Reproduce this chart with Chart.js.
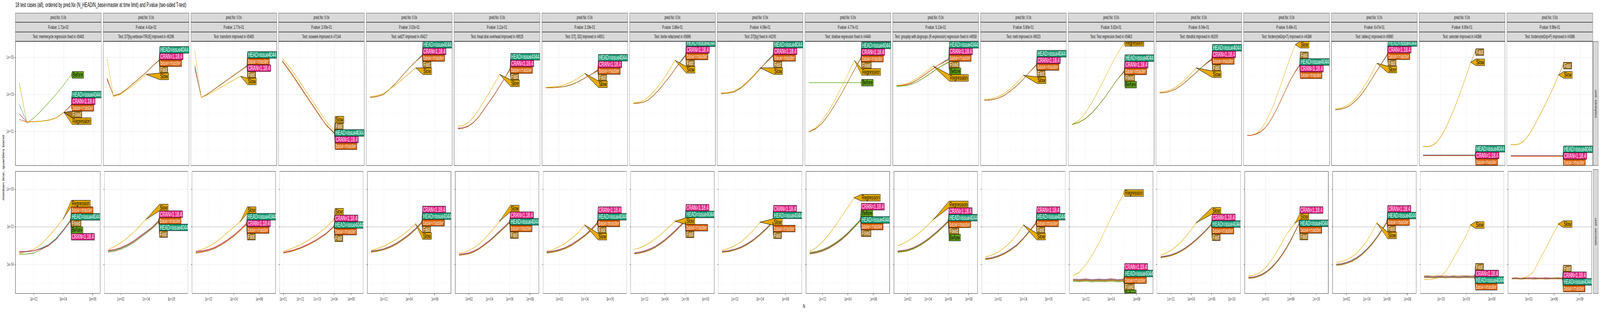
<!DOCTYPE html>
<html><head><meta charset="utf-8">
<script src="https://cdn.jsdelivr.net/npm/chart.js@4.4.1/dist/chart.umd.min.js"></script>
<style>
html,body{margin:0;padding:0;background:#fff;overflow:hidden;}
#root{position:absolute;left:0;top:0;width:7200px;height:800px;transform-origin:0 0;font-family:"Liberation Sans",Arial,sans-serif;background:#fff}
.strip{position:absolute;box-sizing:border-box;background:#d9d9d9;border:1px solid #555;color:#1a1a1a;font-size:12px;display:flex;align-items:center;justify-content:center;white-space:nowrap;overflow:hidden}
.rstrip{position:absolute;box-sizing:border-box;background:#d9d9d9;border:1px solid #555;color:#1a1a1a;font-size:12px;overflow:hidden}
.rstrip span{position:absolute;left:50%;top:50%;transform:translate(-50%,-50%) rotate(90deg);white-space:nowrap}
canvas{position:absolute}
#title{position:absolute;left:69px;top:4px;font-size:16px;color:#000;white-space:nowrap}
#ytitle{position:absolute;left:15px;top:430px;transform:translate(-50%,-50%) rotate(-90deg);font-size:14px;white-space:nowrap}
#xtitle{position:absolute;left:3618px;top:777px;transform:translateX(-50%);font-size:14px}
</style></head><body>
<div id="root"><div id="title"></div><div id="ytitle"></div><div id="xtitle"></div></div>
<script>
const TITLE = "18 test cases (all), ordered by pred.Nx (N_HEAD/N_base=master at time limit) and P.value (two-sided T-test)";
const Y_TITLE = "median line, quartiles band";
const X_TITLE = "N";
const UNITS = ["unit: kilobytes", "unit: seconds"];
const PRED_NX = ["0.0x","0.0x","0.0x","0.0x","0.0x","0.0x","0.0x","0.0x","0.0x","0.0x","0.0x","0.0x","0.0x","0.0x","0.0x","0.0x","0.0x","0.0x"];
const P_VALUES = ["1.71e-02","4.41e-02","2.77e-01","3.00e-01","3.02e-01","3.11e-01","3.19e-01","3.86e-01","4.08e-01","4.77e-01","5.13e-01","5.60e-01","5.82e-01","6.04e-01","6.49e-01","8.47e-01","8.90e-01","9.96e-01"];
const TEST_NAMES = [
 "memrecycle regression fixed in #5463",
 "DT[by,verbose=TRUE] improved in #6296",
 "transform improved in #5493",
 "isoweek improved in #7144",
 "setDT improved in #5427",
 "fread disk overhead improved in #6925",
 "DT[,.SD] improved in #4501",
 "fwrite refactored in #5696",
 "DT[by] fixed in #4200",
 "shallow regression fixed in #4440",
 "groupby with dogroups (R expression) regression fixed in #4558",
 "melt improved in #6023",
 "Test regression fixed in #5463",
 "rbindlist improved in #6200",
 "forderv(retGrp=T) improved in #4386",
 "tables() improved in #6980",
 "setorder improved in #4386",
 "forderv(retGrp=F) improved in #4386"
];
// N values (half decades)
const N_GRID = [10, 31.6, 100, 316, 1000, 3160, 10000, 31600, 100000, 316000, 1000000, 3160000, 10000000];
// time limit line (seconds)
const SECONDS_LIMIT = 0.01;
// row y-limits (log10)
const Y_LIMITS_LOG10 = [[-0.83, 5.88], [-5.55, 0.96]];

const H="HEAD=issue4044", C="CRAN=1.18.4", B="base=master";
// series values as log10(median), aligned with N_GRID
const P1_kb = [
 ["Before",[null,1.46,1.76,2.16,2.6,3.05,3.55,4.07]],
 [H,[2.48,1.53,1.55,1.58,1.63,1.76,2.05,2.47]],
 [C,[1.97,1.53,1.55,1.58,1.63,1.76,2.05,2.45]],
 [B,[1.67,1.53,1.55,1.58,1.63,1.76,2.05,2.44]],
 ["Fixed",[3.63,1.53,1.55,1.58,1.63,1.76,2.05,null]],
 ["Regression",[3.63,1.53,1.55,1.58,1.63,1.76,2.05,null]]];
const P1_sec = [
 ["Regression",[-3.41,-3.3,-3.2,-2.92,-2.51,-2.06,-1.57,null]],
 [B,[-3.35,-3.33,-3.28,-3.15,-2.96,-2.63,-2.16,-1.62]],
 [H,[-3.33,-3.32,-3.27,-3.13,-2.94,-2.62,-2.15,-1.64]],
 ["Fixed",[-3.45,-3.44,-3.39,-3.2,-3.0,-2.66,-2.18,-1.66]],
 ["Before",[-3.45,-3.44,-3.39,-3.2,-3.0,-2.66,-2.18,-1.67]],
 [C,[-3.31,-3.3,-3.27,-3.16,-2.99,-2.68,-2.21,-1.7]]];
const P2_kb = [
 [H,[3.9,2.95,3.05,3.3,3.6,3.9,4.2,4.55,4.88]],
 [C,[3.85,2.95,3.05,3.3,3.6,3.9,4.2,4.55,4.86]],
 [B,[3.8,2.95,3.05,3.3,3.6,3.9,4.2,4.55,4.85]],
 ["Fast",[3.9,2.95,3.05,3.3,3.6,3.9,4.2,4.55,4.84]],
 ["Slow",[4.95,2.9,3.0,3.25,3.5,3.8,4.1,null,null]]];
const P2_sec = [
 ["Slow",[-3.2,-3.05,-2.85,-2.6,-2.3,-1.95,-1.6,null,null]],
 [C,[-3.25,-3.2,-3.1,-2.95,-2.75,-2.5,-2.25,-2.0,-1.65]],
 [B,[-3.28,-3.22,-3.12,-2.97,-2.78,-2.53,-2.28,-2.02,-1.68]],
 [H,[-3.3,-3.25,-3.15,-3.0,-2.8,-2.55,-2.3,-2.05,-1.7]],
 ["Fast",[-3.35,-3.3,-3.2,-3.05,-2.85,-2.6,-2.35,-2.08,-1.75]]];
const P3_kb = [
 [H,[4.6,2.85,3.05,3.3,3.55,3.8,4.05,4.3,4.57]],
 [B,[4.5,2.85,3.05,3.3,3.55,3.8,4.05,4.3,4.55]],
 [C,[4.4,2.85,3.05,3.3,3.55,3.8,4.05,4.3,4.53]],
 ["Fast",[4.5,2.85,3.05,3.3,3.55,3.8,4.05,4.3,4.52]],
 ["Slow",[5.37,2.85,3.0,3.2,3.4,3.6,3.8,4.0,null]]];
const P3_sec = [
 ["Slow",[-3.3,-3.2,-3.05,-2.85,-2.6,-2.3,-2.0,-1.72,null]],
 [H,[-3.35,-3.3,-3.22,-3.1,-2.92,-2.7,-2.45,-2.15,-1.8]],
 [C,[-3.3,-3.27,-3.2,-3.08,-2.9,-2.68,-2.43,-2.13,-1.82]],
 [B,[-3.36,-3.31,-3.23,-3.11,-2.93,-2.71,-2.46,-2.16,-1.84]],
 ["Fast",[-3.4,-3.35,-3.27,-3.15,-2.97,-2.75,-2.5,-2.2,-1.88]]];
const P4_kb = [
 ["Slow",[4.95,4.4,3.7,3.0,2.3,1.6,1.05]],
 ["Fast",[4.85,4.2,3.5,2.8,2.1,1.4,0.95]],
 [H,[4.8,4.15,3.45,2.75,2.05,1.38,0.92]],
 [C,[4.8,4.15,3.45,2.75,2.05,1.38,0.9]],
 [B,[4.8,4.15,3.45,2.75,2.05,1.38,0.89]]];
const P4_sec = [
 ["Slow",[-3.3,-3.15,-2.95,-2.7,-2.4,-2.05,-1.6]],
 [C,[-3.35,-3.25,-3.1,-2.9,-2.65,-2.35,-1.95]],
 [H,[-3.38,-3.28,-3.13,-2.93,-2.68,-2.38,-1.97]],
 [B,[-3.38,-3.28,-3.13,-2.93,-2.68,-2.38,-1.98]],
 ["Fast",[-3.4,-3.3,-3.15,-2.95,-2.7,-2.4,-1.99]]];
const P5_kb = [
 [H,[2.85,2.9,3.0,3.3,3.65,4.05,4.45,4.8,5.16]],
 [C,[2.85,2.9,3.0,3.3,3.65,4.05,4.45,4.8,5.12]],
 [B,[2.85,2.9,3.0,3.3,3.65,4.05,4.45,4.8,5.1]],
 ["Fast",[2.85,2.9,3.0,3.3,3.65,4.05,4.45,4.8,5.08]],
 ["Slow",[2.9,2.95,3.05,3.3,3.55,3.85,4.15,4.45,null]]];
const P5_sec = [
 ["Slow",[-3.25,-3.15,-3.02,-2.85,-2.65,-2.42,-2.15,-1.85,null]],
 [C,[-3.28,-3.23,-3.16,-3.03,-2.86,-2.63,-2.38,-2.08,-1.72]],
 [H,[-3.3,-3.25,-3.18,-3.05,-2.88,-2.65,-2.4,-2.1,-1.75]],
 [B,[-3.32,-3.27,-3.2,-3.07,-2.9,-2.67,-2.42,-2.12,-1.78]],
 ["Fast",[-3.35,-3.3,-3.22,-3.1,-2.93,-2.7,-2.45,-2.15,-1.8]]];
const P6_kb = [
 [H,[1.16,1.2,1.3,1.5,1.8,2.2,2.6,3.0,3.45,3.9,4.43]],
 [C,[1.2,1.22,1.32,1.52,1.82,2.22,2.62,3.02,3.47,3.92,4.4]],
 [B,[1.16,1.2,1.3,1.5,1.8,2.2,2.6,3.0,3.45,3.9,4.38]],
 ["Fast",[1.16,1.2,1.3,1.5,1.8,2.2,2.6,3.0,3.45,3.9,4.35]],
 ["Slow",[1.3,1.35,1.5,1.8,2.2,2.65,3.1,3.6,4.1,null,null]]];
const P6_sec = [
 ["Slow",[-3.4,-3.35,-3.25,-3.1,-2.9,-2.65,-2.35,-2.05,-1.7,null,null]],
 [C,[-3.45,-3.42,-3.37,-3.27,-3.12,-2.92,-2.72,-2.48,-2.22,-1.97,-1.7]],
 [H,[-3.5,-3.45,-3.4,-3.3,-3.15,-2.95,-2.75,-2.5,-2.25,-2.0,-1.72]],
 [B,[-3.5,-3.46,-3.41,-3.31,-3.16,-2.96,-2.76,-2.52,-2.27,-2.02,-1.75]],
 ["Fast",[-3.52,-3.48,-3.43,-3.33,-3.18,-2.98,-2.78,-2.54,-2.29,-2.04,-1.78]]];
const P7_kb = [
 [H,[3.37,3.38,3.4,3.45,3.55,3.7,3.9,4.1,4.35]],
 [C,[3.37,3.38,3.4,3.45,3.55,3.7,3.9,4.1,4.32]],
 [B,[3.37,3.38,3.4,3.45,3.55,3.7,3.9,4.1,4.3]],
 ["Fast",[3.37,3.38,3.4,3.45,3.55,3.7,3.9,4.1,4.28]],
 ["Slow",[3.4,3.42,3.45,3.55,3.7,3.9,4.15,null,null]]];
const P7_sec = [
 ["Slow",[-3.3,-3.2,-3.05,-2.85,-2.6,-2.3,-1.9,null,null]],
 [C,[-3.32,-3.28,-3.2,-3.08,-2.9,-2.68,-2.43,-2.12,-1.75]],
 [H,[-3.35,-3.3,-3.22,-3.1,-2.93,-2.7,-2.45,-2.15,-1.78]],
 [B,[-3.37,-3.32,-3.24,-3.12,-2.95,-2.72,-2.47,-2.17,-1.8]],
 ["Fast",[-3.4,-3.35,-3.27,-3.15,-2.98,-2.75,-2.5,-2.2,-1.83]]];
const P8_kb = [
 [H,[2.53,2.55,2.6,2.75,3.0,3.3,3.65,4.0,4.4,4.8,5.16]],
 [C,[2.53,2.55,2.6,2.75,3.0,3.3,3.65,4.0,4.4,4.78,5.13]],
 [B,[2.53,2.55,2.6,2.75,3.0,3.3,3.65,4.0,4.4,4.77,5.1]],
 ["Fast",[2.53,2.55,2.6,2.75,3.0,3.3,3.65,4.0,4.4,4.76,5.08]],
 ["Slow",[2.55,2.6,2.7,2.9,3.2,3.55,3.95,4.4,4.85,null,null]]];
const P8_sec = [
 ["Slow",[-3.2,-3.12,-3.0,-2.85,-2.65,-2.45,-2.2,-1.95,-1.7,null,null]],
 [C,[-3.37,-3.33,-3.27,-3.17,-3.04,-2.87,-2.67,-2.44,-2.19,-1.92,-1.65]],
 [H,[-3.4,-3.36,-3.3,-3.2,-3.07,-2.9,-2.7,-2.47,-2.22,-1.95,-1.68]],
 [B,[-3.42,-3.38,-3.32,-3.22,-3.09,-2.92,-2.72,-2.49,-2.24,-1.97,-1.7]],
 ["Fast",[-3.44,-3.4,-3.34,-3.24,-3.11,-2.94,-2.74,-2.51,-2.26,-1.99,-1.72]]];
const P9_kb = [
 [H,[3.06,3.08,3.15,3.35,3.65,4.0,4.4,4.8,5.16]],
 [C,[3.06,3.08,3.15,3.35,3.65,4.0,4.4,4.78,5.13]],
 [B,[3.06,3.08,3.15,3.35,3.65,4.0,4.4,4.77,5.11]],
 ["Fast",[3.06,3.08,3.15,3.35,3.65,4.0,4.4,4.76,5.09]],
 ["Slow",[3.1,3.12,3.2,3.4,3.7,4.05,4.45,null,null]]];
const P9_sec = [
 ["Slow",[-3.25,-3.15,-3.0,-2.8,-2.5,-2.15,-1.75,null,null]],
 [C,[-3.3,-3.26,-3.18,-3.06,-2.88,-2.65,-2.38,-2.06,-1.7]],
 [H,[-3.32,-3.28,-3.2,-3.08,-2.9,-2.67,-2.4,-2.08,-1.72]],
 [B,[-3.34,-3.3,-3.22,-3.1,-2.92,-2.69,-2.42,-2.1,-1.75]],
 ["Fast",[-3.36,-3.32,-3.24,-3.12,-2.94,-2.71,-2.44,-2.12,-1.77]]];
const P10_kb = [
 ["Regression",[1.0,1.2,1.6,2.1,2.7,3.4,4.1,4.85,null]],
 [H,[1.0,1.15,1.45,1.9,2.45,3.05,3.7,4.35,5.0]],
 [C,[1.0,1.15,1.45,1.9,2.45,3.05,3.7,4.35,4.98]],
 [B,[1.0,1.15,1.45,1.9,2.45,3.05,3.7,4.35,4.96]],
 ["Fixed",[1.0,1.15,1.45,1.9,2.45,3.05,3.7,4.35,4.94]],
 ["Before",[3.65,3.65,3.65,3.65,3.65,3.65,3.65,3.65,3.65]]];
const P10_sec = [
 ["Regression",[-3.3,-3.1,-2.8,-2.4,-1.95,-1.45,-0.95,-0.45,null]],
 [C,[-3.38,-3.33,-3.23,-3.08,-2.88,-2.63,-2.33,-1.98,-1.6]],
 ["Before",[-3.35,-3.3,-3.2,-3.05,-2.85,-2.6,-2.3,-1.95,-1.61]],
 [H,[-3.4,-3.35,-3.25,-3.1,-2.9,-2.65,-2.35,-2.0,-1.62]],
 [B,[-3.42,-3.37,-3.27,-3.12,-2.92,-2.67,-2.37,-2.02,-1.65]],
 ["Fixed",[-3.44,-3.39,-3.29,-3.14,-2.94,-2.69,-2.39,-2.04,-1.67]]];
const P11_kb = [
 [H,[3.48,3.5,3.55,3.65,3.8,4.0,4.2,4.4,4.6,4.78,4.95]],
 [C,[3.48,3.5,3.55,3.65,3.8,4.0,4.2,4.4,4.6,4.76,4.9]],
 [B,[3.48,3.5,3.55,3.65,3.8,4.0,4.2,4.4,4.6,4.75,4.88]],
 ["Fixed",[3.45,3.47,3.5,3.58,3.7,3.87,4.05,4.25,4.45,4.62,4.78]],
 ["Before",[3.45,3.47,3.5,3.58,3.7,3.87,4.05,4.25,4.45,4.6,4.75]],
 ["Regression",[3.5,3.53,3.6,3.72,3.9,4.1,4.32,4.55,null,null,null]]];
const P11_sec = [
 ["Regression",[-3.0,-2.9,-2.75,-2.58,-2.38,-2.15,-1.9,-1.62,null,null,null]],
 [C,[-3.28,-3.25,-3.2,-3.11,-2.98,-2.82,-2.63,-2.41,-2.18,-1.93,-1.66]],
 [H,[-3.3,-3.27,-3.22,-3.13,-3.0,-2.84,-2.65,-2.43,-2.2,-1.95,-1.68]],
 [B,[-3.32,-3.29,-3.24,-3.15,-3.02,-2.86,-2.67,-2.45,-2.22,-1.97,-1.7]],
 ["Fixed",[-3.34,-3.31,-3.26,-3.17,-3.04,-2.88,-2.69,-2.47,-2.24,-1.99,-1.72]],
 ["Before",[-3.36,-3.33,-3.28,-3.19,-3.06,-2.9,-2.71,-2.49,-2.26,-2.01,-1.74]]];
const P12_kb = [
 [H,[2.7,2.72,2.8,2.95,3.2,3.5,3.85,4.25,4.64]],
 [C,[2.7,2.72,2.8,2.95,3.2,3.5,3.85,4.25,4.62]],
 [B,[2.7,2.72,2.8,2.95,3.2,3.5,3.85,4.25,4.6]],
 ["Fast",[2.7,2.72,2.8,2.95,3.2,3.5,3.85,4.25,4.58]],
 ["Slow",[2.75,2.78,2.88,3.05,3.32,3.65,4.05,null,null]]];
const P12_sec = [
 ["Slow",[-3.6,-3.5,-3.35,-3.1,-2.8,-2.4,-1.9,null,null]],
 [C,[-3.68,-3.63,-3.53,-3.38,-3.18,-2.93,-2.58,-2.18,-1.75]],
 [H,[-3.7,-3.65,-3.55,-3.4,-3.2,-2.95,-2.6,-2.2,-1.78]],
 [B,[-3.72,-3.67,-3.57,-3.42,-3.22,-2.97,-2.62,-2.22,-1.8]],
 ["Fast",[-3.74,-3.69,-3.59,-3.44,-3.24,-2.99,-2.64,-2.24,-1.82]]];
const P13_kb = [
 ["Regression",[1.4,1.6,2.0,2.55,3.2,3.9,4.6,5.25,5.8]],
 [H,[1.4,1.5,1.7,2.0,2.4,2.85,3.35,3.85,4.3]],
 [C,[1.4,1.5,1.7,2.0,2.4,2.85,3.35,3.85,4.28]],
 [B,[1.4,1.5,1.7,2.0,2.4,2.85,3.35,3.85,4.26]],
 ["Fixed",[1.4,1.5,1.7,2.0,2.4,2.85,3.35,3.85,4.24]],
 ["Before",[1.4,1.5,1.7,2.0,2.4,2.85,3.35,3.85,4.22]]];
const P13_sec = [
 ["Regression",[-4.6,-4.4,-4.0,-3.5,-2.9,-2.2,-1.5,-0.85,-0.2]],
 [C,[-4.77,-4.79,-4.76,-4.8,-4.77,-4.79,-4.75,-4.8,-4.77]],
 [H,[-4.8,-4.82,-4.79,-4.83,-4.8,-4.82,-4.78,-4.83,-4.8]],
 [B,[-4.83,-4.85,-4.82,-4.86,-4.83,-4.85,-4.81,-4.86,-4.83]],
 ["Fixed",[-4.86,-4.88,-4.85,-4.89,-4.86,-4.88,-4.84,-4.89,-4.86]],
 ["Before",[-4.9,-4.92,-4.89,-4.93,-4.9,-4.92,-4.88,-4.93,-4.9]]];
const P14_kb = [
 [H,[3.1,3.12,3.18,3.3,3.48,3.7,3.95,4.2,4.47,4.72,4.95]],
 [C,[3.1,3.12,3.18,3.3,3.48,3.7,3.95,4.2,4.47,4.7,4.92]],
 [B,[3.1,3.12,3.18,3.3,3.48,3.7,3.95,4.2,4.47,4.69,4.9]],
 ["Fast",[3.1,3.12,3.18,3.3,3.48,3.7,3.95,4.2,4.47,4.68,4.88]],
 ["Slow",[3.15,3.18,3.25,3.4,3.6,3.85,4.15,4.45,null,null,null]]];
const P14_sec = [
 ["Slow",[-3.5,-3.4,-3.25,-3.05,-2.8,-2.5,-2.15,-1.78,null,null,null]],
 [C,[-3.58,-3.54,-3.48,-3.38,-3.25,-3.08,-2.88,-2.65,-2.4,-2.13,-1.83]],
 [H,[-3.6,-3.56,-3.5,-3.4,-3.27,-3.1,-2.9,-2.67,-2.42,-2.15,-1.85]],
 [B,[-3.62,-3.58,-3.52,-3.42,-3.29,-3.12,-2.92,-2.69,-2.44,-2.17,-1.88]],
 ["Fast",[-3.64,-3.6,-3.54,-3.44,-3.31,-3.14,-2.94,-2.71,-2.46,-2.19,-1.9]]];
const P15_kb = [
 ["Slow",[0.8,0.82,0.9,1.1,1.45,1.9,2.45,3.1,3.75,4.45,5.1,5.7,null]],
 ["Fast",[0.8,0.82,0.88,1.0,1.2,1.5,1.9,2.35,2.85,3.35,3.85,4.26,4.62]],
 [H,[0.8,0.82,0.88,1.0,1.2,1.5,1.9,2.35,2.85,3.35,3.85,4.25,4.6]],
 [C,[0.8,0.82,0.88,1.0,1.2,1.5,1.9,2.35,2.85,3.35,3.85,4.24,4.58]],
 [B,[0.8,0.82,0.88,1.0,1.2,1.5,1.9,2.35,2.85,3.35,3.85,4.23,4.56]]];
const P15_sec = [
 ["Slow",[-4.6,-4.58,-4.5,-4.38,-4.18,-3.9,-3.58,-3.2,-2.8,-2.4,-2.1,-1.8,null]],
 [C,[-4.68,-4.66,-4.61,-4.53,-4.4,-4.23,-4.01,-3.74,-3.43,-3.08,-2.68,-2.23,-1.78]],
 [H,[-4.7,-4.68,-4.63,-4.55,-4.42,-4.25,-4.03,-3.76,-3.45,-3.1,-2.7,-2.25,-1.8]],
 [B,[-4.72,-4.7,-4.65,-4.57,-4.44,-4.27,-4.05,-3.78,-3.47,-3.12,-2.72,-2.27,-1.82]],
 ["Fast",[-4.74,-4.72,-4.67,-4.59,-4.46,-4.29,-4.07,-3.8,-3.49,-3.14,-2.74,-2.29,-1.84]]];
const P16_kb = [
 [H,[2.2,2.22,2.3,2.45,2.7,3.0,3.4,3.85,4.3,4.75,5.2]],
 [C,[2.2,2.22,2.3,2.45,2.7,3.0,3.4,3.85,4.3,4.74,5.18]],
 [B,[2.2,2.22,2.3,2.45,2.7,3.0,3.4,3.85,4.3,4.73,5.16]],
 ["Fast",[2.2,2.22,2.3,2.45,2.7,3.0,3.4,3.85,4.3,4.72,5.14]],
 ["Slow",[2.25,2.28,2.38,2.55,2.85,3.2,3.65,4.15,4.7,null,null]]];
const P16_sec = [
 ["Slow",[-3.9,-3.85,-3.75,-3.6,-3.4,-3.1,-2.75,-2.3,-1.8,null,null]],
 [C,[-3.98,-3.95,-3.88,-3.78,-3.63,-3.43,-3.18,-2.88,-2.53,-2.13,-1.7]],
 [H,[-4.0,-3.97,-3.9,-3.8,-3.65,-3.45,-3.2,-2.9,-2.55,-2.15,-1.72]],
 [B,[-4.03,-4.0,-3.93,-3.83,-3.68,-3.48,-3.23,-2.93,-2.58,-2.18,-1.75]],
 ["Fast",[-4.05,-4.02,-3.95,-3.85,-3.7,-3.5,-3.25,-2.95,-2.6,-2.2,-1.77]]];
const P17_kb = [
 ["Fast",[0.2,0.2,0.25,0.4,0.7,1.1,1.6,2.15,2.75,3.4,4.05,4.75,5.3]],
 ["Slow",[0.2,0.2,0.25,0.4,0.7,1.1,1.6,2.15,2.75,3.4,4.05,4.75,null]],
 [H,[-0.25,-0.25,-0.25,-0.25,-0.25,-0.25,-0.25,-0.25,-0.25,-0.25,-0.25,-0.25,-0.25]],
 [C,[-0.27,-0.27,-0.27,-0.27,-0.27,-0.27,-0.27,-0.27,-0.27,-0.27,-0.27,-0.27,-0.27]],
 [B,[-0.29,-0.29,-0.29,-0.29,-0.29,-0.29,-0.29,-0.29,-0.29,-0.29,-0.29,-0.29,-0.29]]];
const P17_sec = [
 ["Slow",[-4.8,-4.8,-4.78,-4.72,-4.6,-4.4,-4.05,-3.65,-3.25,-2.85,-2.45,-1.9,null]],
 ["Fast",[-4.6,-4.6,-4.62,-4.6,-4.61,-4.6,-4.62,-4.6,-4.61,-4.6,-4.6,-4.61,-4.6]],
 [C,[-4.64,-4.63,-4.65,-4.64,-4.63,-4.65,-4.64,-4.63,-4.65,-4.64,-4.63,-4.64,-4.64]],
 [H,[-4.67,-4.66,-4.68,-4.67,-4.66,-4.68,-4.67,-4.66,-4.68,-4.67,-4.66,-4.67,-4.67]],
 [B,[-4.7,-4.69,-4.71,-4.7,-4.69,-4.71,-4.7,-4.69,-4.71,-4.7,-4.69,-4.7,-4.7]]];
const P18_kb = [
 ["Fast",[0.3,0.3,0.35,0.5,0.8,1.15,1.6,2.05,2.5,3.0,3.5,4.05,4.57]],
 ["Slow",[0.3,0.3,0.35,0.5,0.8,1.15,1.6,2.05,2.5,3.0,3.5,4.07,null]],
 [H,[-0.28,-0.28,-0.28,-0.28,-0.28,-0.28,-0.28,-0.28,-0.28,-0.28,-0.28,-0.28,-0.28]],
 [C,[-0.3,-0.3,-0.3,-0.3,-0.3,-0.3,-0.3,-0.3,-0.3,-0.3,-0.3,-0.3,-0.3]],
 [B,[-0.32,-0.32,-0.32,-0.32,-0.32,-0.32,-0.32,-0.32,-0.32,-0.32,-0.32,-0.32,-0.32]]];
const P18_sec = [
 ["Slow",[-4.75,-4.75,-4.74,-4.7,-4.6,-4.42,-4.0,-3.57,-3.14,-2.71,-2.28,-1.85,null]],
 ["Fast",[-4.72,-4.7,-4.73,-4.71,-4.72,-4.7,-4.71,-4.73,-4.7,-4.72,-4.71,-4.7,-4.72]],
 [C,[-4.74,-4.72,-4.75,-4.73,-4.7,-4.72,-4.74,-4.71,-4.73,-4.72,-4.74,-4.73,-4.74]],
 [H,[-4.75,-4.74,-4.76,-4.75,-4.74,-4.76,-4.75,-4.74,-4.76,-4.75,-4.74,-4.75,-4.75]],
 [B,[-4.77,-4.76,-4.78,-4.77,-4.76,-4.78,-4.77,-4.76,-4.78,-4.77,-4.76,-4.77,-4.77]]];

const PANELS_KB = [P1_kb,P2_kb,P3_kb,P4_kb,P5_kb,P6_kb,P7_kb,P8_kb,P9_kb,P10_kb,P11_kb,P12_kb,P13_kb,P14_kb,P15_kb,P16_kb,P17_kb,P18_kb];
const PANELS_SEC = [P1_sec,P2_sec,P3_sec,P4_sec,P5_sec,P6_sec,P7_sec,P8_sec,P9_sec,P10_sec,P11_sec,P12_sec,P13_sec,P14_sec,P15_sec,P16_sec,P17_sec,P18_sec];

const COLORS = {"HEAD":"#1B9E77","base":"#D95F02","CRAN":"#E7298A","Before":"#66A61E","Regression":"#E6AB02","Slow":"#E6AB02","Fixed":"#A6761D","Fast":"#A6761D"};
const DARK_TEXT = ["Before","Regression","Slow"];
const key = n => n.split("=")[0];

// ---------- layout (in 7200x800 reference coordinates) ----------
const PAGE_W = 7200, PAGE_H = 800;
const PANEL_X0 = 69, PANEL_STEP = 394.8, PANEL_W = 387, PANEL_H = 319;
const ROW_TOP = [106, 434];
const STRIP_TOP = 33, STRIP_H = 24.4;
const FONT = '"Liberation Sans", Arial, sans-serif';

const root = document.getElementById('root');
// the browser window may be narrower than the 7200px figure: fit it horizontally
const sx = Math.min(1, (window.innerWidth || PAGE_W) / PAGE_W);
const sy = Math.min(1, (window.innerHeight || PAGE_H) / PAGE_H);
root.style.transform = 'scale(' + sx + ',' + sy + ')';

document.getElementById('title').textContent = TITLE;
document.getElementById('ytitle').textContent = Y_TITLE;
document.getElementById('xtitle').textContent = X_TITLE;

function logBreaks(lo, hi, n = 5) {
  const mn = Math.floor(lo), mx = Math.ceil(hi);
  let by = Math.floor((mx - mn) / n) + 1, majors;
  while (true) {
    const seq = []; for (let v = mn; v <= mx + 1e-9; v += by) seq.push(v);
    majors = seq.filter(v => v >= lo && v <= hi);
    if (majors.length >= n - 2 || by === 1) break;
    by--;
  }
  const ext = majors.slice();
  if (lo < ext[0]) ext.unshift(ext[0] - by);
  if (hi > ext[ext.length - 1]) ext.push(ext[ext.length - 1] + by);
  const minors = [];
  for (let i = 0; i < ext.length - 1; i++) minors.push((ext[i] + ext[i + 1]) / 2);
  return { majors, minors: minors.filter(v => v >= lo && v <= hi) };
}
const fmtE = e => '1e' + (e >= 0 ? '+' : '-') + String(Math.abs(Math.round(e))).padStart(2, '0');
const isIn = (v, arr) => arr.some(m => Math.abs(Math.log10(v) - m) < 1e-6);

const labelPlugin = {
  id: 'dl',
  beforeDatasetsDraw(chart) {
    const o = chart.options.plugins.dl;
    const a = chart.chartArea, ctx = chart.ctx;
    if (o.hline != null) {
      const y = chart.scales.y.getPixelForValue(o.hline);
      ctx.save(); ctx.strokeStyle = '#b5b5b5'; ctx.lineWidth = 1;
      ctx.beginPath(); ctx.moveTo(a.left, y); ctx.lineTo(a.right, y); ctx.stroke(); ctx.restore();
    }
  },
  afterDatasetsDraw(chart) {
    const a = chart.chartArea, ctx = chart.ctx;
    const items = [];
    chart.data.datasets.forEach((ds, i) => {
      const meta = chart.getDatasetMeta(i);
      const last = meta.data[meta.data.length - 1];
      items.push({ name: ds.label, color: ds.borderColor, x: last.x, y: last.y, idx: i });
    });
    const bx = Math.max(...items.map(t => t.x)) + 3;
    const h = 17;
    items.sort((p, q) => (p.y - q.y) || (p.idx - q.idx));
    let groups = items.map(t => ({ its: [t] }));
    const center = g => g.its.reduce((s, t) => s + t.y, 0) / g.its.length;
    let changed = true;
    while (changed) {
      changed = false;
      for (let i = 0; i < groups.length - 1; i++) {
        const g1 = groups[i], g2 = groups[i + 1];
        if (center(g1) + g1.its.length * h / 2 > center(g2) - g2.its.length * h / 2) {
          g1.its = g1.its.concat(g2.its); groups.splice(i + 1, 1); changed = true; break;
        }
      }
    }
    groups.forEach(g => { const top = center(g) - g.its.length * h / 2; g.its.forEach((t, j) => t.top = top + j * h); });
    ctx.save();
    ctx.beginPath(); ctx.rect(a.left, a.top, a.right - a.left, a.bottom - a.top); ctx.clip();
    ctx.font = '16px ' + FONT;
    items.forEach(t => {
      const w = ctx.measureText(t.name).width + 5;
      ctx.beginPath();
      ctx.moveTo(t.x, t.y);
      ctx.lineTo(bx, t.top); ctx.lineTo(bx + w, t.top); ctx.lineTo(bx + w, t.top + h); ctx.lineTo(bx, t.top + h);
      ctx.closePath();
      ctx.fillStyle = t.color; ctx.fill();
      ctx.strokeStyle = '#000'; ctx.lineWidth = 1; ctx.stroke();
      ctx.fillStyle = DARK_TEXT.includes(key(t.name)) ? '#000' : '#fff';
      ctx.textBaseline = 'middle';
      ctx.fillText(t.name, bx + 2, t.top + h / 2 + 1);
    });
    ctx.restore();
  },
  afterDraw(chart) {
    const a = chart.chartArea, ctx = chart.ctx;
    ctx.save(); ctx.strokeStyle = '#333'; ctx.lineWidth = 1;
    ctx.strokeRect(a.left + 0.5, a.top + 0.5, a.right - a.left - 1, a.bottom - a.top - 1);
    ctx.restore();
  }
};

function makePanel(col, row) {
  const series = row === 0 ? PANELS_KB[col] : PANELS_SEC[col];
  let lastIdx = 0;
  series.forEach(s => s[1].forEach((v, i) => { if (v != null && i > lastIdx) lastIdx = i; }));
  const maxLog = Math.log10(N_GRID[lastIdx]);
  const D = 1.5 * (maxLog - 1);
  const xlo = 1 - 0.05 * D, xhi = 1 + 1.05 * D;
  const [ylo, yhi] = Y_LIMITS_LOG10[row];
  const xb = logBreaks(xlo, xhi), yb = logBreaks(ylo, yhi);
  const padL = col === 0 ? 60 : 0, padB = row === 1 ? 30 : 0;
  const left = PANEL_X0 + col * PANEL_STEP - padL;
  const cv = document.createElement('canvas');
  cv.width = PANEL_W + padL; cv.height = PANEL_H + padB;
  cv.style.left = left + 'px'; cv.style.top = ROW_TOP[row] + 'px';
  cv.style.width = cv.width + 'px'; cv.style.height = cv.height + 'px';
  root.appendChild(cv);
  const n = series.length;
  const datasets = series.map(([name, vals], i) => {
    const data = [];
    vals.forEach((v, j) => { if (v != null) data.push({ x: N_GRID[j], y: Math.pow(10, v) }); });
    const color = COLORS[key(name)];
    return {
      label: name, data, borderColor: color, borderWidth: 1.4, order: n - 1 - i,
      pointRadius: c => (row === 1 && c.dataIndex === data.length - 1) ? 3 : 0,
      pointBorderColor: color, pointBackgroundColor: 'rgba(0,0,0,0)', pointBorderWidth: 1,
      fill: false, tension: 0
    };
  });
  const axis = (brk, lo, hi, show, fitFn) => ({
    type: 'logarithmic', min: Math.pow(10, lo), max: Math.pow(10, hi),
    afterBuildTicks: s => { s.ticks = brk.majors.concat(brk.minors).sort((p, q) => p - q).map(v => ({ value: Math.pow(10, v) })); },
    ticks: { display: show, autoSkip: false, maxRotation: 0, minRotation: 0, padding: 3, color: '#4d4d4d',
      font: { size: 12, family: FONT },
      callback: v => isIn(v, brk.majors) ? fmtE(Math.log10(v)) : '' },
    grid: {
      color: c => (c.tick && isIn(c.tick.value, brk.majors)) ? '#ebebeb' : '#f2f2f2',
      lineWidth: c => (c.tick && isIn(c.tick.value, brk.majors)) ? 1.1 : 0.6,
      drawTicks: true, tickLength: 4, tickWidth: 1,
      tickColor: c => (c.tick && isIn(c.tick.value, brk.majors)) ? '#333' : 'rgba(0,0,0,0)'
    },
    border: { display: false },
    afterFit: s => { fitFn(s); s.paddingLeft = 0; s.paddingRight = 0; s.paddingTop = 0; s.paddingBottom = 0; }
  });
  new Chart(cv, {
    type: 'line',
    data: { datasets },
    options: {
      responsive: false, animation: false, devicePixelRatio: 1,
      layout: { padding: 0 },
      plugins: { legend: { display: false }, tooltip: { enabled: false }, dl: { hline: row === 1 ? SECONDS_LIMIT : null } },
      scales: {
        x: axis(xb, xlo, xhi, row === 1, s => { s.height = padB; }),
        y: axis(yb, ylo, yhi, col === 0, s => { s.width = padL; })
      }
    },
    plugins: [labelPlugin]
  });
}

for (let col = 0; col < 18; col++) {
  const x = PANEL_X0 + col * PANEL_STEP;
  const texts = ["pred.Nx: " + PRED_NX[col], "P.value: " + P_VALUES[col], "Test: " + TEST_NAMES[col]];
  texts.forEach((t, i) => {
    const d = document.createElement('div'); d.className = 'strip';
    d.style.left = x + 'px'; d.style.top = (STRIP_TOP + i * STRIP_H) + 'px';
    d.style.width = PANEL_W + 'px'; d.style.height = STRIP_H + 'px';
    d.textContent = t; root.appendChild(d);
  });
  makePanel(col, 0); makePanel(col, 1);
}
UNITS.forEach((u, r) => {
  const d = document.createElement('div'); d.className = 'rstrip';
  d.style.left = '7169px'; d.style.top = ROW_TOP[r] + 'px'; d.style.width = '23px'; d.style.height = PANEL_H + 'px';
  const s = document.createElement('span'); s.textContent = u; d.appendChild(s); root.appendChild(d);
});
</script>
</body></html>
